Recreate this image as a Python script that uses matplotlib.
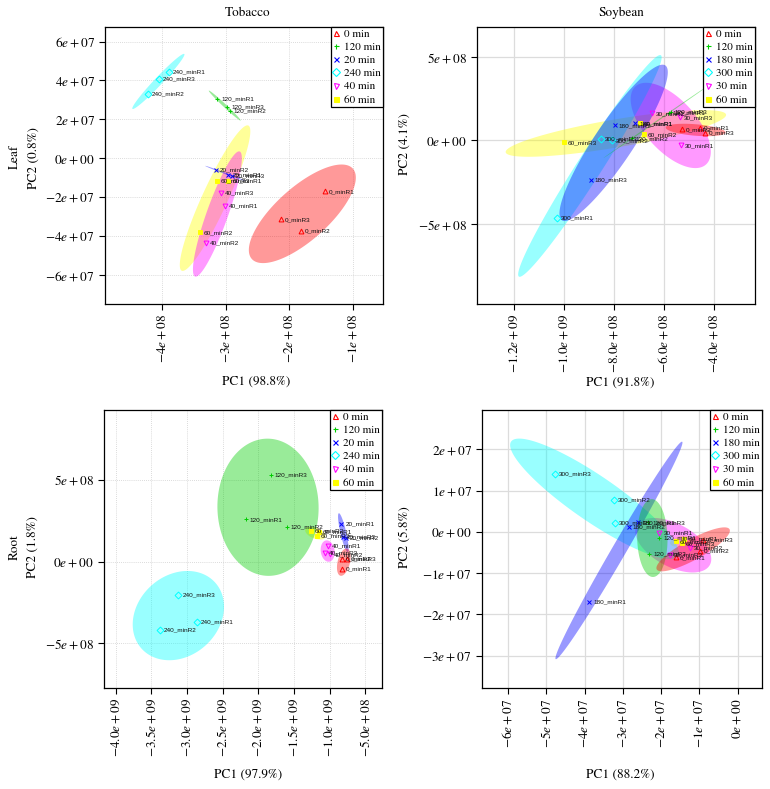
import numpy as np
import matplotlib
matplotlib.use('Agg')
import matplotlib.pyplot as plt
from matplotlib.lines import Line2D

plt.rcParams['mathtext.fontset'] = 'stix'
plt.rcParams['font.family'] = ['STIXGeneral', 'DejaVu Serif']

# ---------------- data ----------------
# Tobacco / Leaf
tl_groups = ['0 min', '120 min', '20 min', '240 min', '40 min', '60 min']
tl_samples = ['0_minR1', '0_minR2', '0_minR3', '120_minR1', '120_minR2', '120_minR3',
              '20_minR1', '20_minR2', '20_minR3', '240_minR1', '240_minR2', '240_minR3',
              '40_minR1', '40_minR2', '40_minR3', '60_minR1', '60_minR2', '60_minR3']
tl_pc1 = [-1.444e8, -1.82e8, -2.13e8, -3.134e8, -2.94e8, -2.98e8,
          -2.96e8, -3.155e8, -2.91e8, -3.895e8, -4.23e8, -4.058e8,
          -3.01e8, -3.31e8, -3.08e8, -2.96e8, -3.41e8, -3.14e8]
tl_pc2 = [-1.71e7, -3.72e7, -3.15e7, 3.05e7, 2.43e7, 2.64e7,
          -0.86e7, -0.60e7, -0.89e7, 4.44e7, 3.31e7, 4.10e7,
          -2.47e7, -4.34e7, -1.80e7, -1.17e7, -3.82e7, -1.17e7]
tl_xticks = [-4e8, -3e8, -2e8, -1e8]
tl_xticklabels = [r'$-4e+08$', r'$-3e+08$', r'$-2e+08$', r'$-1e+08$']
tl_yticks = [6e7, 4e7, 2e7, 0, -2e7, -4e7, -6e7]
tl_yticklabels = [r'$6e+07$', r'$4e+07$', r'$2e+07$', r'$0e+00$', r'$-2e+07$', r'$-4e+07$', r'$-6e+07$']

# Soybean / Leaf
sl_groups = ['0 min', '120 min', '180 min', '300 min', '30 min', '60 min']
sl_samples = ['0_minR1', '0_minR2', '0_minR3', '120_minR1', '120_minR2', '120_minR3',
              '180_minR1', '180_minR2', '180_minR3', '300_minR1', '300_minR2', '300_minR3',
              '30_minR1', '30_minR2', '30_minR3', '60_minR1', '60_minR2', '60_minR3']
sl_pc1 = [-4.55e8, -5.28e8, -4.35e8, -5.81e8, -7.28e8, -5.72e8,
          -7.15e8, -7.96e8, -8.92e8, -1.029e9, -8.07e8, -8.52e8,
          -5.33e8, -6.48e8, -5.36e8, -6.95e8, -6.81e8, -1.0e9]
sl_pc2 = [0.76e8, 0.66e8, 0.46e8, 1.66e8, 0.12e8, 1.72e8,
          1.02e8, 0.90e8, -2.36e8, -4.67e8, 0.0, 0.08e8,
          -0.30e8, 1.62e8, 1.38e8, 1.02e8, 0.36e8, -0.12e8]
sl_xticks = [-1.2e9, -1.0e9, -8e8, -6e8, -4e8]
sl_xticklabels = [r'$-1.2e+09$', r'$-1.0e+09$', r'$-8.0e+08$', r'$-6.0e+08$', r'$-4.0e+08$']
sl_yticks = [5e8, 0, -5e8]
sl_yticklabels = [r'$5e+08$', r'$0e+00$', r'$-5e+08$']

# Tobacco / Root
tr_groups = ['0 min', '120 min', '20 min', '240 min', '40 min', '60 min']
tr_samples = tl_samples
tr_pc1 = [-0.822e9, -0.827e9, -0.757e9, -2.173e9, -1.598e9, -1.822e9,
          -0.836e9, -0.776e9, -0.813e9, -2.860e9, -3.383e9, -3.121e9,
          -1.023e9, -0.990e9, -1.070e9, -1.154e9, -1.266e9, -1.182e9]
tr_pc2 = [-0.43e8, 0.18e8, 0.14e8, 2.57e8, 2.10e8, 5.27e8,
          2.32e8, 1.45e8, 1.51e8, -3.71e8, -4.15e8, -2.04e8,
          0.94e8, 0.43e8, 0.55e8, 1.79e8, 1.85e8, 1.55e8]
tr_xticks = [-4.0e9, -3.5e9, -3.0e9, -2.5e9, -2.0e9, -1.5e9, -1.0e9, -5.0e8]
tr_xticklabels = [r'$-4.0e+09$', r'$-3.5e+09$', r'$-3.0e+09$', r'$-2.5e+09$',
                  r'$-2.0e+09$', r'$-1.5e+09$', r'$-1.0e+09$', r'$-5.0e+08$']
tr_yticks = [5e8, 0, -5e8]
tr_yticklabels = [r'$5e+08$', r'$0e+00$', r'$-5e+08$']

# Soybean / Root
sr_groups = sl_groups
sr_samples = sl_samples
sr_pc1 = [-1.61e7, -0.98e7, -0.89e7, -2.04e7, -2.31e7, -2.33e7,
          -3.87e7, -2.84e7, -2.59e7, -3.21e7, -3.23e7, -4.78e7,
          -2.04e7, -1.24e7, -1.76e7, -1.39e7, -1.61e7, -1.45e7]
sr_pc2 = [-0.62e7, -0.46e7, -0.19e7, -0.14e7, -0.54e7, 0.23e7,
          -1.69e7, 0.11e7, 0.23e7, 0.22e7, 0.77e7, 1.41e7,
          -0.03e7, -0.38e7, -0.56e7, -0.17e7, -0.23e7, -0.28e7]
sr_xticks = [-6e7, -5e7, -4e7, -3e7, -2e7, -1e7, 0]
sr_xticklabels = [r'$-6e+07$', r'$-5e+07$', r'$-4e+07$', r'$-3e+07$', r'$-2e+07$', r'$-1e+07$', r'$0e+00$']
sr_yticks = [2e7, 1e7, 0, -1e7, -2e7, -3e7]
sr_yticklabels = [r'$2e+07$', r'$1e+07$', r'$0e+00$', r'$-1e+07$', r'$-2e+07$', r'$-3e+07$']

# ---------------- style ----------------
COLORS = ['#FF0000', '#00CD00', '#0000FF', '#00FFFF', '#FF00FF', '#FFFF00']
MARKERS = ['^', '+', 'x', 'D', 'v', 's']
OPEN = [True, False, False, True, True, False]
W, H = 770, 789

fig = plt.figure(figsize=(W / 100, H / 100), dpi=100)


def px_axes(l, t, r, b):
    return fig.add_axes([l / W, 1 - b / H, (r - l) / W, (b - t) / H])


def draw_panel(ax, groups, samples, pc1, pc2, xticks, xtl, yticks, ytl, xlim, ylim, dotted):
    pc1 = np.asarray(pc1, float)
    pc2 = np.asarray(pc2, float)
    gidx = np.array([groups.index(s.split('_')[0] + ' min') for s in samples])
    rad = np.sqrt(-2 * np.log(0.05))
    t = np.linspace(0, 2 * np.pi, 300)
    circ = np.vstack([np.cos(t), np.sin(t)])
    # grid
    gkw = dict(color='#cfcfcf', lw=0.6, ls=(0, (1, 1.5))) if dotted else dict(color='#dcdcdc', lw=0.9, ls='-')
    for xv in xticks:
        ax.axvline(xv, zorder=0, **gkw)
    for yv in yticks:
        ax.axhline(yv, zorder=0, **gkw)
    # 95% ellipses (drawn last group first)
    for gi in reversed(range(len(groups))):
        m = gidx == gi
        x, y = pc1[m], pc2[m]
        cov = np.cov(x, y)
        vals, vecs = np.linalg.eigh(cov)
        vals = np.clip(vals, 0, None)
        pts = vecs @ (np.sqrt(vals)[:, None] * circ) * rad
        ax.fill(pts[0] + x.mean(), pts[1] + y.mean(), color=COLORS[gi], alpha=0.4, lw=0, zorder=1)
    # points
    for gi in range(len(groups)):
        m = gidx == gi
        ax.plot(pc1[m], pc2[m], ls='none', marker=MARKERS[gi], ms=3.5 if MARKERS[gi] != 's' else 3.1,
                mec=COLORS[gi], mfc='none' if OPEN[gi] else COLORS[gi], mew=0.7, zorder=3)
    for s, x, y in zip(samples, pc1, pc2):
        ax.annotate(s, (x, y), xytext=(2.8, 0), textcoords='offset points', fontsize=4.6,
                    family='Liberation Sans', va='center', ha='left', color='#111111', zorder=4)
    ax.set_xlim(xlim)
    ax.set_ylim(ylim)
    ax.set_xticks(xticks)
    ax.set_xticklabels(xtl, rotation=90, fontsize=9.5)
    ax.set_yticks(yticks)
    ax.set_yticklabels(ytl, fontsize=9.5)
    ax.tick_params(length=4.5, width=0.8, pad=3)
    for sp in ax.spines.values():
        sp.set_linewidth(0.9)
    handles = [Line2D([], [], ls='none', marker=MARKERS[i], ms=3.6, mec=COLORS[i],
                      mfc='none' if OPEN[i] else COLORS[i], mew=0.8) for i in range(len(groups))]
    leg = ax.legend(handles, groups, loc='upper right', borderaxespad=0, fontsize=8,
                    handlelength=0.5, handletextpad=0.5, borderpad=0.2, labelspacing=0.3,
                    frameon=True, fancybox=False, framealpha=1, edgecolor='black')
    leg.get_frame().set_linewidth(0.9)
    leg.set_zorder(5)


ax1 = px_axes(105, 27, 383, 304)
draw_panel(ax1, tl_groups, tl_samples, tl_pc1, tl_pc2, tl_xticks, tl_xticklabels, tl_yticks, tl_yticklabels,
           (-4.9e8, -0.53e8), (-7.5e7, 6.75e7), True)
ax2 = px_axes(477, 27, 755, 304)
draw_panel(ax2, sl_groups, sl_samples, sl_pc1, sl_pc2, sl_xticks, sl_xticklabels, sl_yticks, sl_yticklabels,
           (-1.348e9, -2.35e8), (-9.82e8, 6.81e8), False)
ax3 = px_axes(104, 410, 382, 688)
draw_panel(ax3, tr_groups, tr_samples, tr_pc1, tr_pc2, tr_xticks, tr_xticklabels, tr_yticks, tr_yticklabels,
           (-4.164e9, -0.266e9), (-7.72e8, 9.25e8), True)
ax4 = px_axes(482, 410, 762, 688)
draw_panel(ax4, sr_groups, sr_samples, sr_pc1, sr_pc2, sr_xticks, sr_xticklabels, sr_yticks, sr_yticklabels,
           (-6.68e7, 0.64e7), (-3.78e7, 2.95e7), False)


def ftext(px, py, s, **kw):
    fig.text(px / W, 1 - py / H, s, ha='center', va='center', fontsize=9.5, **kw)


ftext(248, 13, 'Tobacco')
ftext(621, 13, 'Soybean')
ftext(256, 382, 'PC1 (98.8%)')
ftext(620, 383, 'PC1 (91.8%)')
ftext(248, 775, 'PC1 (97.9%)')
ftext(620, 775, 'PC1 (88.2%)')
ftext(15, 157, 'Leaf', rotation=90)
ftext(34, 158, 'PC2 (0.8%)', rotation=90)
ftext(405, 144, 'PC2 (4.1%)', rotation=90)
ftext(15, 547, 'Root', rotation=90)
ftext(33, 547, 'PC2 (1.8%)', rotation=90)
ftext(405, 537, 'PC2 (5.8%)', rotation=90)

fig.savefig('out.png', dpi=100)
